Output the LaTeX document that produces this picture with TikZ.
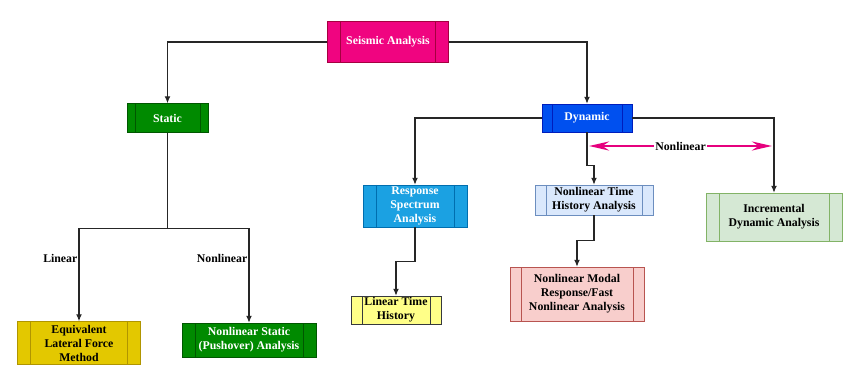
\documentclass[tikz,border=0pt]{standalone}
\usepackage{fontspec}
\setmainfont{Liberation Serif}
\usetikzlibrary{arrows.meta}

\definecolor{seisfill}{HTML}{F00480}
\definecolor{seisline}{HTML}{A50040}
\definecolor{grnfill}{HTML}{008A00}
\definecolor{grnline}{HTML}{005700}
\definecolor{bluefill}{HTML}{0050EF}
\definecolor{blueline}{HTML}{001DBC}
\definecolor{cyanfill}{HTML}{1BA1E2}
\definecolor{cyanline}{HTML}{006EAF}
\definecolor{ltbluefill}{HTML}{DAE8FC}
\definecolor{ltblueline}{HTML}{6C8EBF}
\definecolor{ltgrnfill}{HTML}{D5E8D4}
\definecolor{ltgrnline}{HTML}{82B366}
\definecolor{ylwfill}{HTML}{FFFF88}
\definecolor{ylwline}{HTML}{36393D}
\definecolor{pinkfill}{HTML}{F8CECC}
\definecolor{pinkline}{HTML}{B85450}
\definecolor{goldfill}{HTML}{E3C800}
\definecolor{goldline}{HTML}{B09500}
\definecolor{nlmagenta}{HTML}{E6007E}

\tikzset{
  barsep/.store in=\procbar, barsep=10pt,
  boxfont/.style={font=\bfseries\fontsize{11.8}{14}\selectfont},
  proc/.style 2 args={rectangle, fill=#1, draw=#2, align=center, inner sep=0pt, boxfont,
    path picture={\draw[#2]
      ([xshift=\procbar]path picture bounding box.north west) -- ([xshift=\procbar]path picture bounding box.south west)
      ([xshift=-\procbar]path picture bounding box.north east) -- ([xshift=-\procbar]path picture bounding box.south east);}},
  conn/.style={draw=black!85, line width=1.3pt, -{Latex[length=7pt,width=6pt]}},
  plain/.style={draw=black!85, line width=1.3pt},
  lbl/.style={boxfont, inner sep=1pt},
  nlarrow/.style={draw=nlmagenta, line width=2.6pt, {Stealth[length=20pt,width=9pt]}-{Stealth[length=20pt,width=9pt]}}
}

\begin{document}
\begin{tikzpicture}[x=1pt, y=-1pt]
\useasboundingbox (0,0) rectangle (856,374);

\node[proc={seisfill}{seisline}, text=white, minimum width=121, minimum height=41, barsep=13pt] (seis) at (388,42) {Seismic Analysis};
\node[proc={grnfill}{grnline}, text=white, minimum width=81, minimum height=29, barsep=8pt] (static) at (167.5,118) {Static};
\node[proc={bluefill}{blueline}, text=white, minimum width=90, minimum height=28, barsep=10pt] (dyn) at (587,118) {Dynamic};
\node[proc={cyanfill}{cyanline}, text=white, minimum width=104, minimum height=42, barsep=13pt] (resp) at (415,206) {Response\\Spectrum\\Analysis};
\node[proc={ltbluefill}{ltblueline}, minimum width=118, minimum height=30, barsep=11pt] (nth) at (594,200) {Nonlinear Time\\History Analysis};
\node[proc={ltgrnfill}{ltgrnline}, minimum width=136, minimum height=48, barsep=13pt] (ida) at (774,217) {Incremental\\Dynamic Analysis};
\node[proc={ylwfill}{ylwline}, minimum width=90, minimum height=28, barsep=11pt] (lth) at (396,310) {Linear Time\\History};
\node[proc={pinkfill}{pinkline}, minimum width=134, minimum height=54, barsep=11pt] (nmr) at (577,294) {Nonlinear Modal\\Response/Fast\\Nonlinear Analysis};
\node[proc={goldfill}{goldline}, minimum width=123, minimum height=43, barsep=13pt] (elf) at (79,343) {Equivalent\\Lateral Force\\Method};
\node[proc={grnfill}{grnline}, text=white, minimum width=134, minimum height=34, barsep=13pt] (nls) at (249,340) {Nonlinear Static\\(Pushover) Analysis};

\draw[conn] (seis.west) -| (static.north);
\draw[conn] (seis.east) -| (dyn.north);
\draw[plain] (static.south) -- ++(0,96) coordinate (split);
\draw[conn] (split) -| (elf.north) node[pos=.66, lbl, left]{Linear};
\draw[conn] (split) -| (nls.north) node[pos=.66, lbl, left]{Nonlinear};
\draw[conn] (dyn.west) -| (resp.north);
\draw[conn] (dyn.east) -| (ida.north);
\draw[conn] (dyn.south) -- ++(0,33) -| (nth.north);
\draw[conn] (resp.south) -- ++(0,34) -| (lth.north);
\draw[conn] (nth.south) -- ++(0,25) -| (nmr.north);

\coordinate (nlL) at (589,146);
\coordinate (nlR) at (772,146);
\draw[nlarrow] (nlL) -- (nlR) node[midway, lbl, fill=white]{Nonlinear};
\end{tikzpicture}
\end{document}
